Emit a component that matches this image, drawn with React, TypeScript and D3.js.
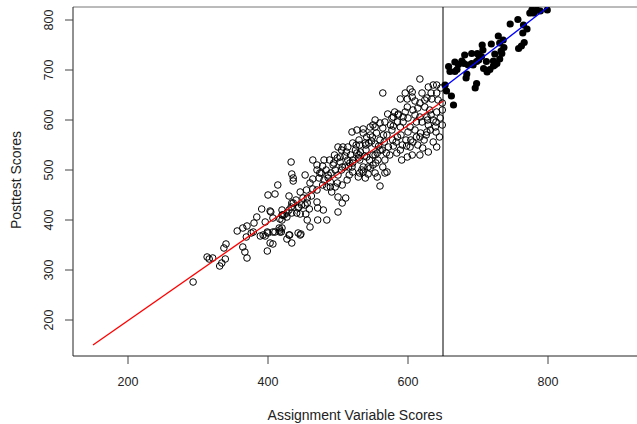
import React from 'react'
import * as d3 from 'd3'

// assignment / posttest scores below the cutoff (open circles)
const controlScores: [number, number][] = [
  [293,276],[313,326],[316,322],[321,324],[331,308],[334,314],[339,322],[337,344],[340,352],
  [356,378],[364,384],[370,388],[369,366],[367,336],[370,324],[376,374],[379,376],[380,394],
  [384,406],[391,422],[389,368],[396,368],[396,396],[399,338],[407,352],[400,374],[410,376],
  [417,376],[420,384],[404,416],[407,404],[400,450],[410,452],[414,470],[417,402],[423,410],
  [427,414],[430,448],[434,434],[436,478],[427,362],[434,354],[430,370],[446,456],[444,426],
  [447,372],[453,430],[454,412],[456,444],[441,414],[433,516],[434,492],[436,484],[364,346],
  [443,374],[464,520],[480,520],[453,490],[460,474],[464,462],[470,500],[474,494],[473,484],
  [489,476],[484,466],[486,484],[494,514],[503,526],[507,546],[500,546],[520,576],[527,580],
  [536,574],[550,590],[553,600],[514,520],[521,514],[510,506],[516,490],[527,534],[531,550],
  [541,526],[543,506],[546,570],[560,560],[556,534],[569,534],[567,494],[560,468],[531,494],
  [539,484],[500,446],[511,444],[506,434],[500,416],[491,456],[496,466],[479,420],[471,424],
  [470,436],[459,422],[456,434],[450,444],[436,434],[433,426],[443,424],[427,406],[420,410],
  [403,418],[446,412],[456,400],[460,386],[417,380],[431,370],[399,376],[393,370],[446,370],
  [403,354],[471,400],[484,400],[476,494],[541,566],[549,566],[514,546],[521,554],[539,554],
  [544,554],[553,552],[553,530],[499,524],[503,516],[510,528],[521,520],[529,524],[520,506],
  [536,506],[546,504],[543,492],[554,514],[556,486],[493,510],[496,500],[500,490],[483,500],
  [486,490],[480,480],[464,482],[521,496],[529,486],[534,500],[499,474],[506,470],[513,480],
  [489,466],[407,376],[416,384],[419,376],[420,400],[421,410],[434,414],
  [617,682],[564,654],[589,642],[596,654],[603,662],[606,656],[599,642],[620,654],[629,666],
  [636,670],[641,670],[633,654],[641,654],[647,664],[610,638],[617,634],[627,644],[634,642],
  [643,640],[649,634],[571,612],[581,616],[586,612],[599,626],[607,620],[614,624],[624,626],
  [631,620],[641,616],[649,620],[560,594],[567,596],[577,604],[593,606],[600,604],[617,606],
  [627,606],[636,600],[646,604],[546,586],[553,586],[564,584],[579,588],[589,586],[603,586],
  [629,590],[639,586],[649,590],[536,582],[579,606],[586,610],[627,576],[617,566],[636,556],
  [607,556],[603,546],[614,550],[589,540],[584,534],[574,530],[567,520],[564,506],[570,496],
  [557,520],[550,510],[506,506],[517,514],[531,520],[536,496],[553,494],[591,520],[599,526],
  [606,530],[617,530],[629,536],[621,544],[641,546],[600,576],[610,580],[590,570],[597,560],
  [583,556],[623,560],[570,570],[577,580],[593,596],[620,596],[579,548],[560,540],[566,556],
  [540,540],[530,560],[526,550],[612,596],[633,610],[624,640],[606,646],
  [470,510],[478,508],[488,520],[495,530],[505,540],[512,536],[518,530],[525,540],[532,536],
  [538,528],[545,520],[550,530],[558,548],[563,540],[572,546],[578,560],[585,566],[592,550],
  [598,548],[604,560],[612,566],[618,574],[626,570],[632,580],[640,576],[645,566],[640,596],
  [628,600],[610,610],[596,616],[585,596],[575,590],[565,570],[555,574],[548,558],[540,550],
  [530,530],[515,506],[505,500],[490,494],[478,470],[470,460],[462,448],[455,460],[448,430],
  [440,440],[430,420],[420,420]
]

// scores at or above the cutoff (filled circles)
const treatedScores: [number, number][] = [
  [799,820],[789,818],[777,820],[784,820],[780,814],[774,814],[746,792],[757,801],[765,790],
  [770,782],[764,774],[729,768],[736,760],[731,754],[719,752],[706,750],[707,740],[737,745],
  [734,733],[724,732],[733,738],[731,722],[722,718],[727,713],[724,710],[766,755],[762,748],
  [758,743],[691,733],[699,733],[705,727],[701,720],[698,717],[681,730],[677,718],[680,713],
  [672,711],[667,716],[658,707],[660,697],[667,697],[670,701],[686,710],[691,713],[693,710],
  [708,703],[713,696],[717,701],[722,708],[684,692],[683,684],[698,673],[696,664],[653,670],
  [655,658],[662,648],[665,630],[712,717],[701,730]
]

const cutoff = 650
const controlFit: [number, number][] = [[150, 150], [650, 638]]
const treatedFit: [number, number][] = [[650, 664], [800, 826]]

const xTicks = [200, 400, 600, 800]
const yTicks = [200, 300, 400, 500, 600, 700, 800]

const W = 637
const H = 424
const plot = { left: 73, right: 700, top: 7, bottom: 356 }
const font = '"Liberation Sans", Arial, Helvetica, sans-serif'

export default function App() {
  const x = d3.scaleLinear().domain([200, 800]).range([128, 548])
  const y = d3.scaleLinear().domain([200, 800]).range([320, 20])
  const line = d3.line<[number, number]>().x(d => x(d[0])).y(d => y(d[1]))

  return (
    <svg width={W} height={H} style={{ position: 'absolute', left: 0, top: 0, background: '#fff' }}>
      <defs>
        <clipPath id="plotclip">
          <rect x={plot.left} y={plot.top} width={plot.right - plot.left} height={plot.bottom - plot.top} />
        </clipPath>
      </defs>

      {/* frame */}
      <line x1={plot.left} x2={plot.right} y1={plot.top} y2={plot.top} stroke="#777" />
      <line x1={plot.left} x2={plot.right} y1={plot.bottom} y2={plot.bottom} stroke="#222" />
      <line x1={plot.left} x2={plot.left} y1={plot.top} y2={plot.bottom} stroke="#222" />

      {/* y axis */}
      {yTicks.map(t => (
        <g key={'y' + t}>
          <line x1={plot.left - 8} x2={plot.left} y1={y(t)} y2={y(t)} stroke="#444" />
          <text transform={`translate(${53},${y(t)}) rotate(-90)`} textAnchor="middle"
            fontFamily={font} fontSize={12.5} fill="#222">{t}</text>
        </g>
      ))}
      {/* x axis */}
      {xTicks.map(t => (
        <g key={'x' + t}>
          <line x1={x(t)} x2={x(t)} y1={plot.bottom} y2={plot.bottom + 8} stroke="#444" />
          <text x={x(t)} y={386} textAnchor="middle" fontFamily={font} fontSize={12.5} fill="#222">{t}</text>
        </g>
      ))}

      <text x={355} y={420} textAnchor="middle" fontFamily={font} fontSize={14} fill="#222">Assignment Variable Scores</text>
      <text transform={`translate(${21},${180}) rotate(-90)`} textAnchor="middle" fontFamily={font}
        fontSize={14} fill="#222">Posttest Scores</text>

      <g clipPath="url(#plotclip)">
        {controlScores.map((d, i) => (
          <circle key={'c' + i} cx={x(d[0])} cy={y(d[1])} r={3.3} fill="none" stroke="#000" strokeWidth={1} />
        ))}
        {treatedScores.map((d, i) => (
          <circle key={'t' + i} cx={x(d[0])} cy={y(d[1])} r={3.6} fill="#000" />
        ))}
        <line x1={x(cutoff)} x2={x(cutoff)} y1={plot.top} y2={plot.bottom} stroke="#000" />
        <path d={line(controlFit) || ''} fill="none" stroke="#ff0000" strokeWidth={1.3} />
        <path d={line(treatedFit) || ''} fill="none" stroke="#0000ff" strokeWidth={1.3} />
      </g>
    </svg>
  )
}
